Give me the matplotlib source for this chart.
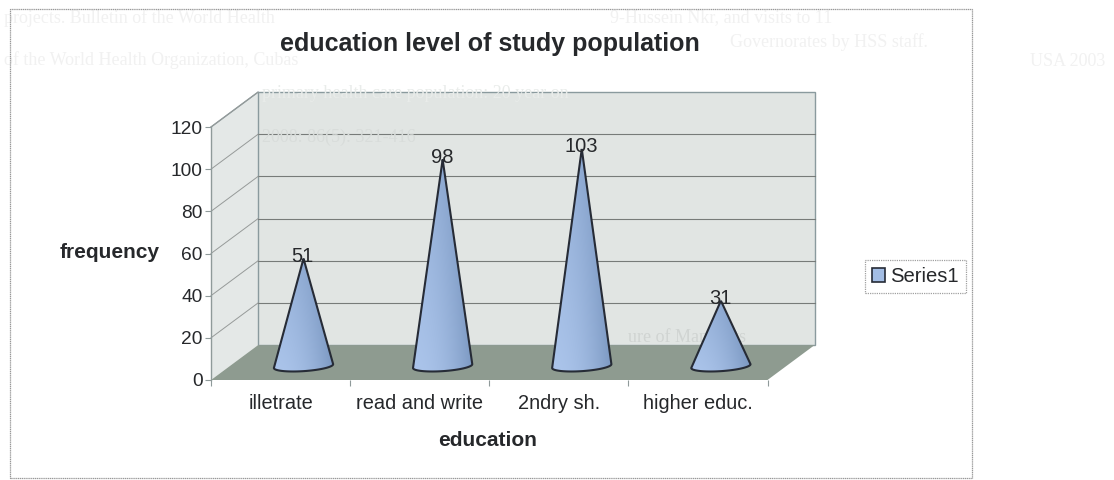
import numpy as np
import matplotlib
matplotlib.use("Agg")
import matplotlib.pyplot as plt
from matplotlib.patches import Polygon, Rectangle, Patch, PathPatch
from matplotlib.path import Path

plt.rcParams['font.family'] = ['Liberation Sans', 'DejaVu Sans']

categories = ["illetrate", "read and write", "2ndry sh.", "higher educ."]
frequency = [51, 98, 103, 31]
y_ticks = [0, 20, 40, 60, 80, 100, 120]
title = "education level of study population"
series_name = "Series1"

W, H = 1114, 480
TEXT = "#26282b"

# 3d box offset of the back wall, in data units
DX = 47 / 139.1
DY = 35 / 2.117
# cone base sits a little behind the front edge
CONE_DX = 0.165
CONE_DY = 6.6
CONE_RX = 0.213
CONE_RY = 2.4


def px(x):
    return x / W


def py(y):
    return 1 - y / H


fig = plt.figure(figsize=(W / 100, H / 100), dpi=100, facecolor="white")

# outer chart frame
fig.add_artist(Rectangle((px(10), py(478)), px(962), 469 / H, transform=fig.transFigure,
                         fc="none", ec="#999999", lw=0.9, ls=(0, (1, 0.5))))

ax = fig.add_axes([px(211), py(380), (767.5 - 211) / W, 253 / H])
ax.set_xlim(0, 4)
ax.set_ylim(0, 120)
ax.patch.set_visible(False)
for side in ["top", "right", "bottom"]:
    ax.spines[side].set_visible(False)
ax.spines["left"].set_color("#8f9a9a")
ax.spines["left"].set_linewidth(1.0)

# faint print showing through the page, kept behind the cones
for x, y, s, c in [(4, 18, "projects. Bulletin of the World Health", "#f1f1f1"),
                   (4, 60, "of the World Health Organization, Cubas", "#f1f1f1"),
                   (610, 18, "9-Hussein Nkr, and visits to 11", "#f1f1f1"),
                   (730, 42, "Governorates by HSS staff.", "#f1f1f1"),
                   (1030, 62, "USA 2003", "#f1f1f1"),
                   (262, 93, "primary health care population: 20 year on", "#e9ecea"),
                   (262, 137, "2008: 86(5): 321-416", "#d8dcda"),
                   (628, 338, "ure of Mandants", "#d0d4d2")]:
    ax.text(px(x), py(y), s, transform=fig.transFigure, fontsize=13, family="Liberation Serif",
            color=c, va="center", zorder=2.5, clip_on=False)

# walls and floor
wall = "#e1e5e3"
ax.add_patch(Polygon([(0, 0), (DX, DY), (DX, 120 + DY), (0, 120)], fc="#e4e8e7", ec="none",
                     clip_on=False, zorder=1))
ax.add_patch(Polygon([(DX, DY), (4 + DX, DY), (4 + DX, 120 + DY), (DX, 120 + DY)], fc=wall,
                     ec="#8a9a9e", lw=1.0, clip_on=False, zorder=1))
ax.add_patch(Polygon([(0, 0), (4, 0), (4 + DX, DY), (DX, DY)], fc="#8e9b90", ec="none",
                     clip_on=False, zorder=3))
ax.plot([0, DX], [120, 120 + DY], color="#8a9a9e", lw=1.0, clip_on=False, zorder=2)

# gridlines on the back wall and left wall
for v in y_ticks[1:]:
    if v < 120:
        ax.plot([DX, 4 + DX], [v + DY, v + DY], color="#777b79", lw=0.8, clip_on=False, zorder=2)
    ax.plot([0, DX], [v, v + DY], color="#969a99", lw=0.7, clip_on=False, zorder=2)

# horizontal + vertical shading used for the cones
xx, yy = np.meshgrid(np.linspace(0, 1, 60), np.linspace(0, 1, 60))
light = np.array([0.67, 0.77, 0.92])
dark = np.array([0.38, 0.50, 0.67])
t = 0.62 * xx ** 2 + 0.25 * yy
shade = light[None, None, :] * (1 - t[..., None]) + dark[None, None, :] * t[..., None]

for i, value in enumerate(frequency):
    cx = i + 0.5 + CONE_DX
    cy = CONE_DY
    ang = np.linspace(0, np.pi, 40)
    # base curve runs from right edge round the bottom to the left edge
    bx = cx + CONE_RX * np.cos(-ang)
    by = cy + CONE_RY * np.sin(-ang) + 0.9 * np.cos(ang)
    verts = [(cx, value + cy)] + list(zip(bx, by)) + [(cx, value + cy)]
    cone = PathPatch(Path(verts, closed=False), fc="none", ec="#262b36", lw=1.5,
                     joinstyle="round", clip_on=False, zorder=6)
    ax.add_patch(cone)
    fill = ax.imshow(shade, extent=[cx - CONE_RX, cx + CONE_RX, cy - CONE_RY - 1, value + cy],
                     origin="lower", aspect="auto", zorder=5, interpolation="bilinear")
    clip = Polygon(verts, closed=True, transform=ax.transData)
    fill.set_clip_path(clip)
    ax.text(cx - 0.005, value + cy + 1.0, str(value), ha="center", va="center", fontsize=14.5,
            color=TEXT, zorder=8, clip_on=False)
ax.set_xlim(0, 4)
ax.set_ylim(0, 120)

ax.set_yticks(y_ticks)
ax.set_xticks(range(5))
ax.set_xticklabels([])
ax.set_xticks(np.arange(len(categories)) + 0.5, categories, minor=True)
ax.tick_params(axis="x", which="major", length=4, color="#8f9a9a")
ax.tick_params(axis="x", which="minor", length=0, pad=10, labelsize=14.4, labelcolor=TEXT)
ax.tick_params(axis="y", length=4, color="#8f9a9a", labelsize=13.8, labelcolor=TEXT, pad=2)
ax.set_axisbelow(True)

fig.text(px(490), py(44), title, fontsize=18, fontweight="bold", color=TEXT, ha="center", va="center")
fig.text(px(110), py(253), "frequency", fontsize=15, fontweight="bold", color=TEXT, ha="center", va="center")
fig.text(px(488), py(441), "education", fontsize=15, fontweight="bold", color=TEXT, ha="center", va="center")

leg = fig.legend(handles=[Patch(fc="#a3bde4", ec="#262b36", lw=1.2, label=series_name)],
                 loc="center", bbox_to_anchor=(px(915.5), py(276.5)), frameon=True, fontsize=14.6,
                 fancybox=False, handlelength=0.65, handleheight=0.75, handletextpad=0.25,
                 labelcolor=TEXT, borderpad=0.35)
leg.get_frame().set_edgecolor("#8a8a8a")
leg.get_frame().set_linestyle((0, (1, 0.8)))
leg.get_frame().set_linewidth(0.9)

fig.savefig("out.png", dpi=100, facecolor="white")
